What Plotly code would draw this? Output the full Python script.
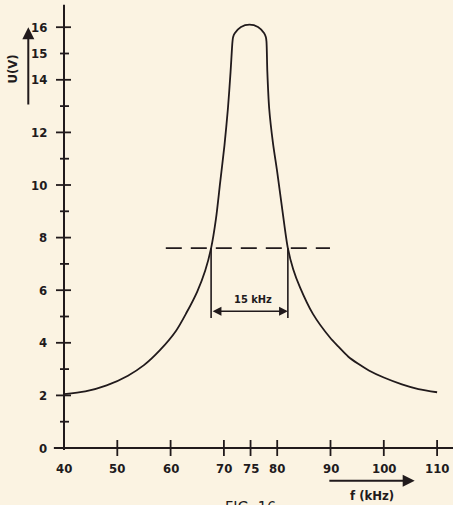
import plotly.graph_objects as go

# ---- data ----
freq_khz = [40, 44, 48, 52, 55, 58, 61, 63, 65, 66.5, 67.6, 68.5, 69.3, 70.1, 70.75, 71.25, 71.61, 71.72, 72.04,
            73.2, 74.8, 76.4, 77.56, 77.88, 77.99, 78.15, 78.5, 79.2, 80.0, 81.0, 82.0, 83.0, 84.3, 86.7, 89.9,
            91.5, 93.3, 95.2, 97.2, 100.0, 103.4, 106.5, 110.0]
voltage_v = [2.05, 2.15, 2.38, 2.75, 3.15, 3.72, 4.45, 5.15, 5.95, 6.75, 7.6, 8.7, 10.1, 11.5, 12.9, 14.3, 15.45, 15.62, 15.77,
             16.01, 16.1, 16.01, 15.77, 15.62, 15.45, 14.3, 12.9, 11.6, 10.5, 9.0, 7.6, 6.8, 6.1, 5.1, 4.2,
             3.85, 3.48, 3.2, 2.95, 2.68, 2.42, 2.24, 2.12]

x_ticks = [40, 50, 60, 70, 75, 80, 90, 100, 110]
y_ticks_all = list(range(1, 17))
y_tick_labels = [0, 2, 4, 6, 8, 10, 12, 14, 15, 16]

half_level = 7.6           # dashed level (V)
band_low, band_high = 67.6, 82.0   # band edges (kHz)
band_label = "15 kHz"
dash_from, dash_to = 59.1, 89.9

# ---- style ----
BG = "#fbf3e2"
INK = "#211a1c"
FONT = "DejaVu Sans Condensed, DejaVu Sans, Liberation Sans Narrow, sans-serif"

fig = go.Figure()

# curve
fig.add_trace(go.Scatter(x=freq_khz, y=voltage_v, mode="lines",
                         line=dict(color=INK, width=1.8, shape="spline", smoothing=0.8),
                         hoverinfo="skip", showlegend=False))
# dashed level
fig.add_trace(go.Scatter(x=[dash_from, dash_to], y=[half_level, half_level], mode="lines",
                         line=dict(color=INK, width=1.6, dash="16px,9px"),
                         hoverinfo="skip", showlegend=False))
# band verticals
band_bottom = 4.94
for f in (band_low, band_high):
    fig.add_trace(go.Scatter(x=[f, f], y=[half_level, band_bottom], mode="lines",
                             line=dict(color=INK, width=1.6),
                             hoverinfo="skip", showlegend=False))

shapes = []
# axis lines
shapes.append(dict(type="line", xref="x", yref="y", x0=40, x1=40, y0=-0.08, y1=16.85,
                   line=dict(color=INK, width=2)))
shapes.append(dict(type="line", xref="x", yref="y", x0=38.1, x1=113, y0=0, y1=0,
                   line=dict(color=INK, width=2)))
# y ticks (crossing)
for v in y_ticks_all:
    major = v % 2 == 0
    shapes.append(dict(type="line", xref="x", xsizemode="pixel", xanchor=40,
                       x0=-8 if major else -4, x1=7 if major else 5,
                       yref="y", y0=v, y1=v, line=dict(color=INK, width=1.8)))
# x ticks (crossing)
for f in x_ticks[1:]:
    shapes.append(dict(type="line", yref="y", ysizemode="pixel", yanchor=0, y0=-8, y1=8,
                       xref="x", x0=f, x1=f, line=dict(color=INK, width=1.8)))

annotations = []
for v in y_tick_labels:
    annotations.append(dict(x=40, y=v, xref="x", yref="y", text=f"<b>{v}</b>", showarrow=False,
                            xanchor="right", yanchor="middle", xshift=-15,
                            font=dict(family=FONT, size=13, color=INK)))
for f in x_ticks:
    annotations.append(dict(x=f, y=0, xref="x", yref="y", text=f"<b>{f}</b>", showarrow=False,
                            xanchor="center", yanchor="middle", yshift=-20,
                            font=dict(family=FONT, size=13, color=INK)))

# band arrow and label
annotations.append(dict(x=band_high, y=5.2, ax=band_low, ay=5.2, xref="x", yref="y",
                        axref="x", ayref="y", text="", showarrow=True, arrowside="end+start",
                        arrowhead=2, arrowsize=1.1, arrowwidth=1.6, arrowcolor=INK))
annotations.append(dict(x=(band_low + band_high) / 2 + 0.6, y=5.65, xref="x", yref="y",
                        text=f"<b>{band_label}</b>", showarrow=False,
                        font=dict(family=FONT, size=11, color=INK)))

# axis titles with arrows
annotations.append(dict(x=30.3, y=14.4, xref="x", yref="y", text="<b>U(V)</b>", showarrow=False,
                        textangle=-90, font=dict(family=FONT, size=13, color=INK)))
annotations.append(dict(x=33.3, y=16.0, ax=33.3, ay=13.0, xref="x", yref="y", axref="x", ayref="y",
                        text="", showarrow=True, arrowhead=2, arrowsize=1.2, arrowwidth=2,
                        arrowcolor=INK))
annotations.append(dict(x=97.8, y=-1.8, xref="x", yref="y", text="<b>f (kHz)</b>", showarrow=False,
                        font=dict(family=FONT, size=13, color=INK)))
annotations.append(dict(x=105.8, y=-1.25, ax=89.5, ay=-1.25, xref="x", yref="y", axref="x", ayref="y",
                        text="", showarrow=True, arrowhead=2, arrowsize=1.2, arrowwidth=2,
                        arrowcolor=INK))
# caption (cut at bottom edge)
annotations.append(dict(x=74.9, y=0, xref="x", yref="paper", yanchor="top", yshift=9,
                        text="FIG. 16", showarrow=False,
                        font=dict(family=FONT, size=16, color=INK)))

fig.update_layout(
    width=453, height=505, autosize=False,
    margin=dict(l=0, r=0, t=0, b=0),
    paper_bgcolor=BG, plot_bgcolor=BG,
    xaxis=dict(range=[40 - 64 / 5.33, 40 + 389 / 5.33], visible=False, fixedrange=True),
    yaxis=dict(range=[-57 / 26.3, 448 / 26.3], visible=False, fixedrange=True),
    shapes=shapes, annotations=annotations, showlegend=False,
)

fig.write_html("out.html", config={"displayModeBar": False},
               post_script="document.body.style.margin='0px';document.body.style.background='%s';" % BG)
